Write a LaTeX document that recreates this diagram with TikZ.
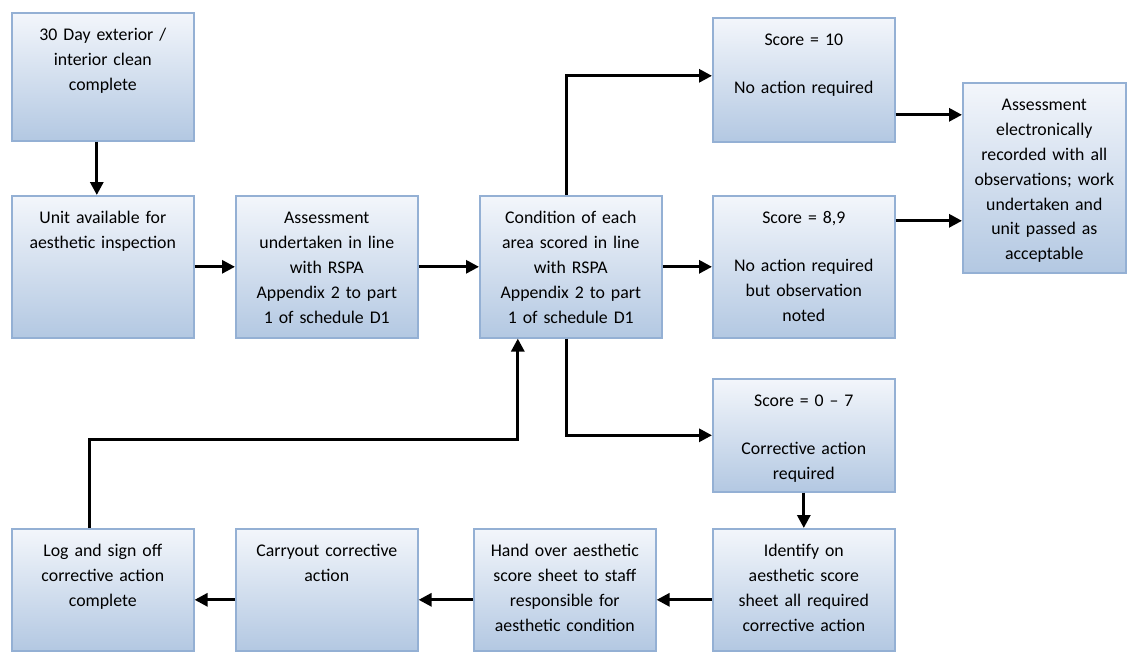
\documentclass[tikz,border=0pt]{standalone}
\usepackage{fontspec}
\setmainfont{Carlito}
\usepackage{xcolor}
\usetikzlibrary{
    arrows.meta,
    shadows,
    calc
}
\definecolor{boxtop}{HTML}{F3F6FB}
\definecolor{boxbottom}{HTML}{B3C8E2}
\definecolor{boxline}{HTML}{94B0D4}

\begin{document}
\begin{tikzpicture}[x=1pt, y=-1pt,
    box/.style={draw=boxline, line width=1.6pt, top color=boxtop, bottom color=boxbottom,
        drop shadow={shadow xshift=1.5pt, shadow yshift=-1.5pt, opacity=0.25},
        anchor=north west, align=center, text width=160pt, inner xsep=11pt, inner ysep=10pt,
        text height=18pt, text depth=#1, text=black,
        font=\fontsize{17.8pt}{24.8pt}\selectfont},
    flow/.style={line width=3pt, -{Triangle[length=13pt,width=13pt]}}]
                        \useasboundingbox (0,0) rectangle (1134,654);

                        \node[box=90pt] (clean) at (11, 12) {30 Day exterior /\\interior clean\\complete};
                        \node[box=104pt] (unit) at (11, 195) {Unit available for\\aesthetic inspection};
                        \node[box=104pt] (undertaken) at (235, 195) {Assessment\\undertaken in line\\with RSPA\\Appendix 2 to part\\1 of schedule D1};
                        \node[box=104pt] (cond) at (479, 195) {Condition of each\\area scored in line\\with RSPA\\Appendix 2 to part\\1 of schedule D1};
                        \node[box=86pt] (s10) at (712, 17) {Score = 10\\[23pt]No action required};
                        \node[box=104pt] (s89) at (712, 195) {Score = 8,9\\[23pt]No action required\\but observation\\noted};
                        \node[box=75pt] (s07) at (712, 378) {Score = 0 -- 7\\[23pt]Corrective action\\required};
                        \node[box=152pt, text width=148pt, inner xsep=7.5pt] (assess) at (962, 82) {Assessment\\electronically\\recorded with all\\observations; work\\undertaken and\\unit passed as\\acceptable};
                        \node[box=84pt] (ident) at (712, 528) {Identify on\\aesthetic score\\sheet all required\\corrective action};
                        \node[box=84pt] (handover) at (473, 528) {Hand over aesthetic\\score sheet to staff\\responsible for\\aesthetic condition};
                        \node[box=84pt] (carry) at (235, 528) {Carryout corrective\\action};
                        \node[box=84pt] (log) at (11, 528) {Log and sign off\\corrective action\\complete};

                        \draw[flow] ([xshift=-6pt]clean.south) -- ([xshift=-6pt]unit.north);
                        \draw[flow] (unit) -- (undertaken);
                        \draw[flow] (undertaken) -- (cond);
                        \draw[flow] (cond) -- (s89);
                        \draw[flow] ([xshift=-4pt]cond.north) |- ([yshift=4pt]s10.west);
                        \draw[flow] ([xshift=-4pt]cond.south) |- (s07.west);
                        \draw[flow] ([yshift=-35pt]s10.east) -- ([yshift=-35pt]s10.east -| assess.west);
                        \draw[flow] ([yshift=46pt]s89.east) -- ([yshift=46pt]s89.east -| assess.west);
                        \draw[flow] (s07) -- (ident);
                        \draw[flow] ([yshift=-10pt]ident.west) -- ([yshift=-10pt]handover.east);
                        \draw[flow] ([yshift=-10pt]handover.west) -- ([yshift=-10pt]carry.east);
                        \draw[flow] ([yshift=-10pt]carry.west) -- ([yshift=-10pt]log.east);
                        \draw[flow] ([xshift=-13pt]log.north) -- ++(0, -89) -| ([xshift=-53pt]cond.south);
                    \end{tikzpicture}
\end{document}
